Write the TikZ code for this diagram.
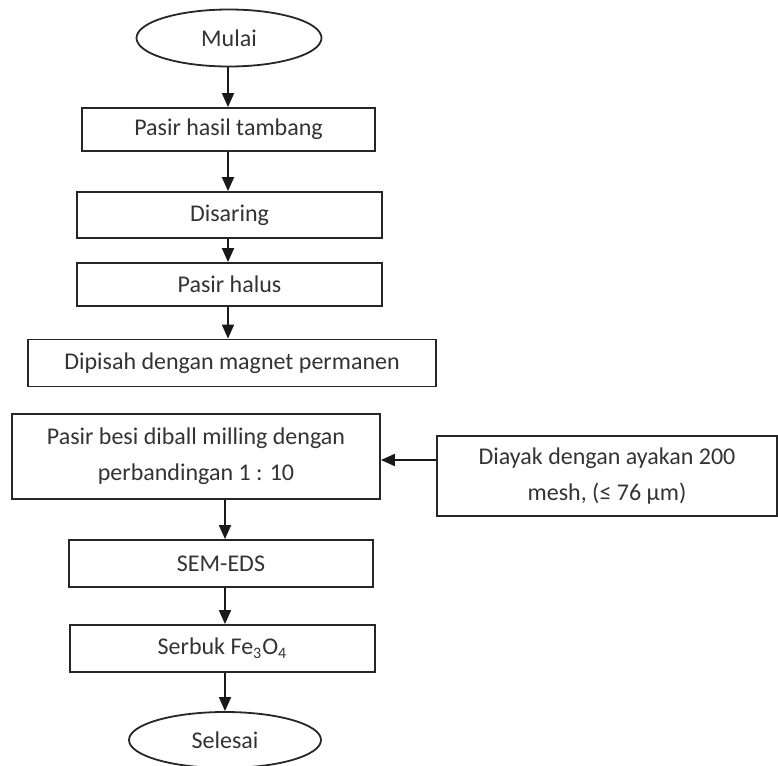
\documentclass[tikz,border=0pt]{standalone}
\usepackage{fontspec}
\setmainfont{Carlito}
\usetikzlibrary{shapes.geometric,arrows.meta}

\begin{document}
\begin{tikzpicture}[x=0.5pt,y=-0.5pt,
  >={Triangle[width=6pt,length=7pt]},
  kotak/.style={draw=black!85,line width=0.9pt,rectangle,inner sep=0pt,align=center,text=black!80,font=\fontsize{12}{18}\selectfont},
  oval/.style={draw=black!85,line width=0.9pt,ellipse,inner sep=0pt,text=black!80,font=\fontsize{12}{18}\selectfont},
  panah/.style={->,line width=0.9pt,black!90}]
          %\draw[help lines,step=50] (0,0) grid (778,766);
          \useasboundingbox (0,0) rectangle (778,766);
          % alur utama
          \node[oval,minimum width=92.5pt,minimum height=28.5pt](mulai) at (229,38){Mulai};
          \node[kotak,minimum width=146.5pt,minimum height=21.5pt](hasil) at (228.5,129.5){Pasir hasil tambang};
          \node[kotak,minimum width=152.5pt,minimum height=23pt](saring) at (229.5,215){Disaring};
          \node[kotak,minimum width=152.5pt,minimum height=21.5pt](halus) at (229.5,284.5){Pasir halus};
          \node[kotak,minimum width=204pt,minimum height=23.5pt](pisah) at (232,363){Dipisah dengan magnet permanen};
          \node[kotak,minimum width=184pt,minimum height=42.5pt](besi) at (196,456.5){Pasir besi diball milling dengan\\perbandingan 1 : 10};
          \node[kotak,minimum width=170pt,minimum height=40pt](ayak) at (607,476){Diayak dengan ayakan 200\\mesh, (≤ 76 µm)};
          \node[kotak,minimum width=152pt,minimum height=23.5pt](sem) at (221,563.5){SEM-EDS};
          \node[kotak,minimum width=152.5pt,minimum height=23.5pt](serbuk) at (222.5,648.5){Serbuk Fe\textsubscript{3}O\textsubscript{4}};
          \node[oval,minimum width=96pt,minimum height=28pt](selesai) at (225,740){Selesai};
          % panah
          \coordinate (atas) at (228,0);
          \coordinate (bawah) at (225,0);
          \draw[panah] (mulai.south -| atas) -- (hasil.north -| atas);
          \draw[panah] (hasil.south -| atas) -- (saring.north -| atas);
          \draw[panah] (saring.south -| atas) -- (halus.north -| atas);
          \draw[panah] (halus.south -| atas) -- (pisah.north -| atas);
          \draw[panah] (ayak.west |- 0,460) -- (besi.east |- 0,460);
          \draw[panah] (besi.south -| bawah) -- (sem.north -| bawah);
          \draw[panah] (sem.south -| bawah) -- (serbuk.north -| bawah);
          \draw[panah] (serbuk.south -| bawah) -- (selesai.north -| bawah);
\end{tikzpicture}
\end{document}
